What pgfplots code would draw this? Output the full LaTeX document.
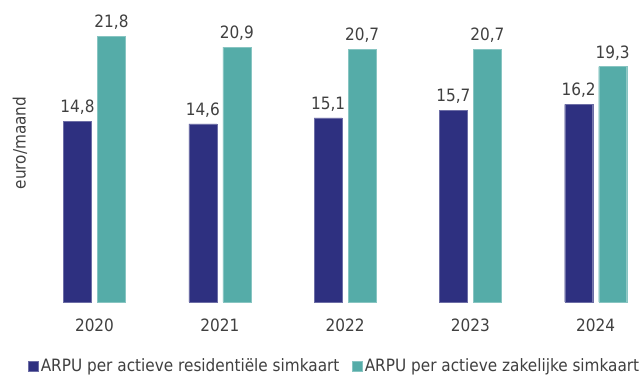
\documentclass[border=0pt]{standalone}
\usepackage{fontspec}
\setmainfont{DejaVu Sans Condensed}
\usepackage{pgfplots}
\pgfplotsset{compat=1.18}
\definecolor{navy}{HTML}{2E3080}
\definecolor{teal2}{HTML}{55ACA8}
\definecolor{txt}{HTML}{404040}
\newcommand{\f}{\fontsize{17}{20}\selectfont}
\begin{document}
\begin{tikzpicture}[x=1pt,y=1pt]
\path[use as bounding box] (0,0) rectangle (640,376);
\begin{axis}[
 at={(31.85pt,74pt)}, anchor=south west,
 scale only axis, width=607.7pt, height=292.8pt,
 xmin=-0.5, xmax=4.35, ymin=0, ymax=24,
 axis line style={draw=none}, tick style={draw=none},
 ytick=\empty,
 xtick={0,1,2,3,4}, xticklabels={2020,2021,2022,2023,2024},
 xticklabel style={font=\f, text=txt, yshift=-9pt},
 ybar=6pt, bar width=28pt,
 /pgf/number format/.cd, use comma, fixed, fixed zerofill, precision=1, assume math mode=true,
 /pgfplots/.cd,
 nodes near coords,
 every node near coord/.append style={font=\f, text=txt, yshift=3pt},
 legend columns=2,
 legend style={draw=none, at={(0.4985,-0.219)}, anchor=center, font=\f, text=txt, /tikz/every even column/.append style={column sep=11pt}},
 legend image code/.code={\fill[#1] (0pt,-5pt) rectangle (10pt,5pt);},
 clip=false,
]
\addplot[fill=navy, draw=navy!70!white, line width=0.4pt] coordinates {(0,14.8) (1,14.6) (2,15.1) (3,15.7) (4,16.2)};
\addplot[fill=teal2, draw=teal2!70!white, line width=0.4pt] coordinates {(0,21.8) (1,20.9) (2,20.7) (3,20.7) (4,19.3)};
\legend{ARPU per actieve residentiële simkaart, ARPU per actieve zakelijke simkaart}
\end{axis}
\node[rotate=90, text=txt, font=\f] at (20,233) {euro/maand};
\end{tikzpicture}
\end{document}
